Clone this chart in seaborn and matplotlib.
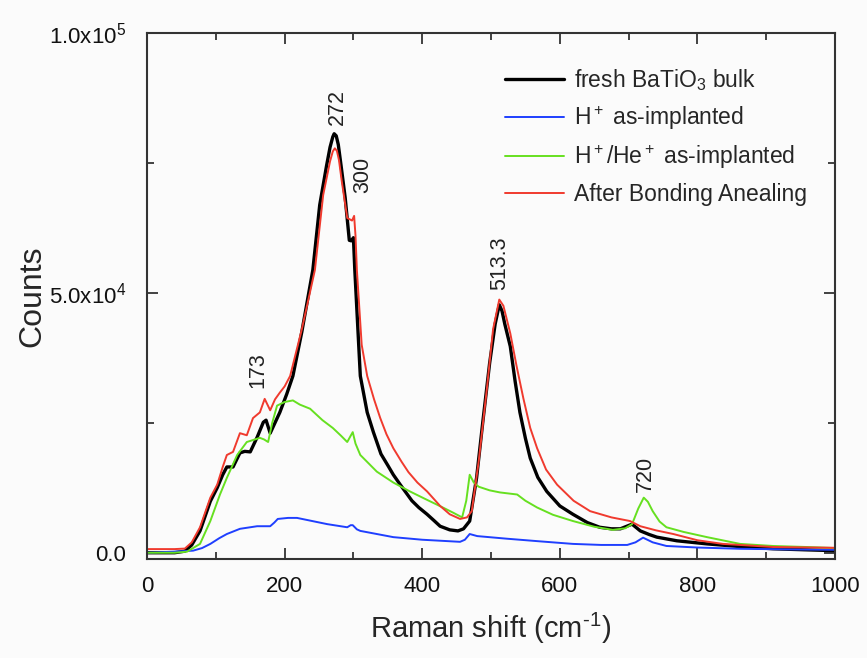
import numpy as np
import pandas as pd
import matplotlib
matplotlib.use("Agg")
import matplotlib.pyplot as plt
import seaborn as sns

# ---- Raman spectra (shift in cm^-1, counts) ----
fresh_x = [0, 40, 55, 65, 77, 92, 102, 110, 116, 125, 135, 142, 150, 160, 169, 173, 179, 186,
           193, 203, 212, 225, 241, 251, 261, 266, 270, 272, 275, 278, 282, 288, 294, 297, 300,
           302, 310, 320, 329, 340, 350, 358, 368, 385, 395, 407, 417, 426, 440, 452, 460, 469,
           479, 488, 498, 506, 512, 516, 520, 528, 535, 542, 550, 557, 568, 581, 600, 619, 640,
           658, 675, 688, 705, 717, 730, 741, 770, 814, 860, 910, 960, 1000]
fresh_y = [0, 0, 300, 1500, 4200, 9900, 12500, 15000, 16500, 16500, 19200, 19500, 19400, 22200,
           25100, 25500, 23000, 25000, 27000, 30500, 34000, 42500, 54400, 66900, 74500, 78000,
           80000, 80600, 80200, 78500, 74500, 68300, 60100, 60000, 60600, 54400, 34000, 27000,
           23200, 19000, 16800, 15000, 13100, 10000, 8700, 7400, 6200, 5100, 4400, 4200, 4600,
           6100, 14400, 25100, 36500, 44000, 47700, 46500, 44000, 39700, 33000, 27000, 22000,
           18200, 14500, 11800, 9000, 7400, 5800, 4900, 4600, 4600, 5500, 4200, 3500, 3000, 2300,
           1700, 1200, 760, 550, 400]

h_x = [0, 38, 67, 80, 92, 105, 116, 135, 160, 179, 185, 190, 205, 218, 240, 262, 291, 296, 299,
       305, 310, 358, 400, 455, 462, 469, 480, 523, 570, 619, 660, 698, 710, 721, 735, 755, 800,
       862, 930, 1000]
h_y = [0, 200, 400, 900, 1700, 2800, 3600, 4600, 5100, 5100, 5800, 6500, 6700, 6700, 6100, 5500,
       4900, 5300, 5300, 4500, 4200, 3000, 2500, 2100, 2500, 3600, 3200, 2700, 2200, 1700, 1500,
       1500, 2000, 2900, 2000, 1300, 1000, 760, 650, 570]

hhe_x = [0, 40, 58, 77, 92, 106, 116, 131, 145, 164, 170, 176, 182, 189, 200, 212, 222, 237,
         255, 270, 282, 291, 296, 299, 303, 310, 334, 358, 382, 405, 430, 445, 458, 464, 469,
         475, 482, 498, 513, 538, 550, 567, 590, 619, 650, 677, 695, 705, 714, 722, 728, 735,
         745, 755, 780, 814, 862, 910, 959, 1000]
hhe_y = [0, 0, 200, 1700, 6100, 11200, 14400, 18800, 21300, 22100, 21800, 21300, 25000, 28300,
         29000, 29300, 28500, 27700, 25500, 24000, 22500, 21300, 22500, 23200, 21000, 18800,
         15600, 13500, 11800, 10300, 8700, 7700, 6800, 10000, 15000, 13500, 12700, 12000, 11600,
         11200, 10000, 8700, 7300, 6100, 5000, 4400, 4700, 5500, 8500, 10600, 9800, 8000, 6000,
         4900, 4000, 3000, 1700, 1300, 1100, 900]

anneal_x = [0, 40, 55, 65, 77, 92, 102, 110, 116, 125, 135, 145, 154, 164, 171, 179, 186, 193,
            200, 208, 225, 244, 256, 266, 270, 273, 276, 279, 283, 291, 298, 301, 303, 305, 312,
            320, 330, 339, 348, 358, 370, 380, 393, 407, 426, 440, 455, 465, 472, 482, 494, 503,
            512, 518, 528, 537, 547, 557, 567, 580, 596, 620, 644, 675, 702, 717, 740, 765, 800,
            837, 910, 1000]
anneal_y = [700, 700, 800, 2000, 4900, 10600, 13100, 16500, 18800, 19400, 23000, 22600, 25900,
            27000, 29600, 27400, 29500, 30800, 32000, 34000, 43000, 54400, 68800, 75300, 77200,
            77800, 77300, 75500, 71500, 64400, 63900, 64800, 61000, 54400, 40000, 34000, 29500,
            25900, 22800, 20100, 17500, 15500, 13500, 11800, 9000, 7400, 6500, 6800, 8000, 17500,
            31600, 43000, 48700, 47500, 42200, 36000, 29700, 24000, 20100, 16000, 13100, 10000,
            8000, 6800, 6100, 5100, 4300, 3600, 2400, 1700, 1100, 950]

series_labels = ["fresh BaTiO$_3$ bulk", "H$^+$ as-implanted",
                 "H$^+$/He$^+$ as-implanted", "After Bonding Anealing"]

# peak annotations: label text, x position, y position of the label base
peak_labels = ["173", "272", "300", "513.3", "720"]
peak_label_x = [161, 277, 314, 513, 724]
peak_label_y = [31600, 82300, 69200, 50600, 11600]

xticks = [0, 200, 400, 600, 800, 1000]
yticks = [0, 50000, 100000]
ytick_labels = ["0.0", "5.0x10$^4$", "1.0x10$^5$"]

# ---- styling ----
sns.set_theme(style="ticks")
plt.rcParams["font.family"] = ["Liberation Sans", "DejaVu Sans"]
plt.rcParams["mathtext.fontset"] = "custom"
plt.rcParams["mathtext.rm"] = "Liberation Sans"
plt.rcParams["mathtext.it"] = "Liberation Sans:italic"
plt.rcParams["mathtext.bf"] = "Liberation Sans:bold"

frames = []
for lab, xs, ys in zip(series_labels, [fresh_x, h_x, hhe_x, anneal_x],
                       [fresh_y, h_y, hhe_y, anneal_y]):
    frames.append(pd.DataFrame({"shift": xs, "counts": ys, "sample": lab}))
df = pd.concat(frames, ignore_index=True)

palette = {series_labels[0]: "#000000", series_labels[1]: "#1f3fff",
           series_labels[2]: "#66e020", series_labels[3]: "#f03a2e"}
widths = {series_labels[0]: 2.4, series_labels[1]: 1.4,
          series_labels[2]: 1.4, series_labels[3]: 1.4}

fig = plt.figure(figsize=(8.67, 6.58), dpi=100, facecolor="#fbfbfb")
ax = fig.add_axes([0.1696, 0.1505, 0.7935, 0.7995])
ax.set_facecolor("#fbfbfb")

for lab in series_labels:
    sub = df[df["sample"] == lab]
    sns.lineplot(data=sub, x="shift", y="counts", ax=ax, color=palette[lab],
                 lw=widths[lab], label=lab, estimator=None, sort=False)

ax.set_xlim(0, 1000)
ax.set_ylim(-1200, 100000)
ax.set_xticks(xticks)
ax.set_xticks([100, 300, 500, 700, 900], minor=True)
ax.set_yticks(yticks)
ax.set_yticklabels(ytick_labels)
ax.set_yticks([25000, 75000], minor=True)
ax.tick_params(which="both", direction="in", top=True, right=True, width=1.3,
               colors="#333333", labelcolor="#111111", labelsize=16)
ax.tick_params(which="major", length=8)
ax.tick_params(axis="x", which="major", pad=12)
ax.tick_params(axis="y", which="major", pad=15)
ax.tick_params(which="minor", length=5)
for s in ax.spines.values():
    s.set_linewidth(1.5)
    s.set_color("#333333")

ax.set_xlabel("Raman shift (cm$^{\u20101}$)", fontsize=21, labelpad=10)
ax.set_ylabel("Counts", fontsize=23, labelpad=1)

for t, px, py in zip(peak_labels, peak_label_x, peak_label_y):
    ax.text(px, py, t, rotation=90, ha="center", va="bottom", fontsize=15.5,
            color="#222222")

leg = ax.legend(loc="upper left", bbox_to_anchor=(0.49, 0.975), frameon=False,
                fontsize=16.5, handlelength=2.6, handletextpad=0.4, labelspacing=0.5)

fig.savefig("out.png", dpi=100, facecolor=fig.get_facecolor())
